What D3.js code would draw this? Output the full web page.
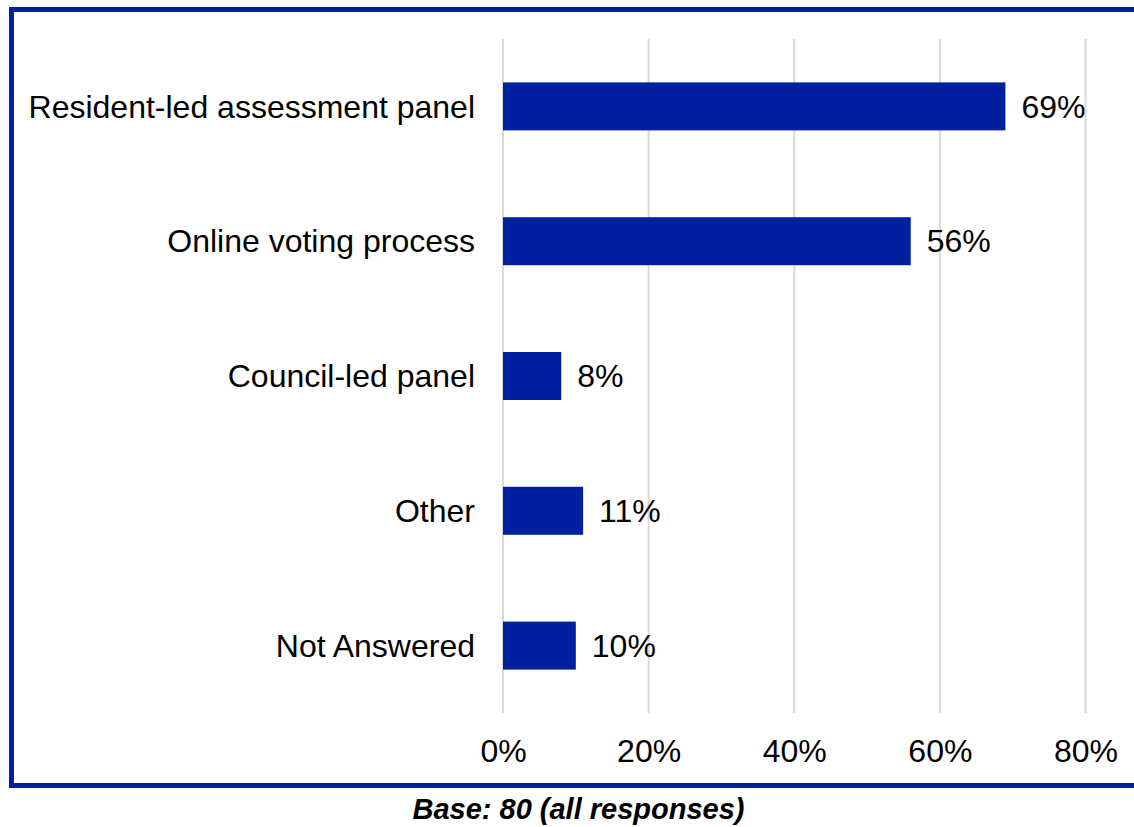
<!DOCTYPE html>
<html>
<head>
<meta charset="utf-8">
<script src="https://cdn.jsdelivr.net/npm/d3@7"></script>
<style>
  html, body { margin: 0; padding: 0; background: #fff; }
  svg { display: block; font-family: Arial, "Liberation Sans", sans-serif; }
</style>
</head>
<body>
<svg id="chart" width="1134" height="827"></svg>
<script>
// Preferred assessment method, share of all responses
const categories = [
  "Resident-led assessment panel",
  "Online voting process",
  "Council-led panel",
  "Other",
  "Not Answered"
];
const values = [0.69, 0.56, 0.08, 0.11, 0.10];
const tickValues = [0, 0.2, 0.4, 0.6, 0.8];
const baseNote = "Base: 80 (all responses)";

const W = 1134, H = 827;
const navy = "#0020A0";
const fontSize = "32px";
const margin = { top: 39, right: 48.5, bottom: 114, left: 503 };

const svg = d3.select("#chart");

// frame around the chart area
svg.append("rect")
  .attr("x", 11.5).attr("y", 9.5)
  .attr("width", 1140).attr("height", 776)
  .attr("fill", "none")
  .attr("stroke", navy)
  .attr("stroke-width", 5);

const x = d3.scaleLinear()
  .domain([0, 0.8])
  .range([margin.left, W - margin.right]);

const y = d3.scaleBand()
  .domain(categories)
  .range([margin.top, H - margin.bottom])
  .paddingInner(0.644)
  .paddingOuter(0.322);

// vertical gridlines
svg.append("g")
  .selectAll("line")
  .data(tickValues)
  .join("line")
  .attr("x1", d => x(d)).attr("x2", d => x(d))
  .attr("y1", margin.top).attr("y2", H - margin.bottom)
  .attr("stroke", "#d9d9d9")
  .attr("stroke-width", 2);

// x axis tick labels
const xAxis = d3.axisBottom(x)
  .tickValues(tickValues)
  .tickFormat(d3.format(".0%"))
  .tickSize(0)
  .tickPadding(0);

const gx = svg.append("g")
  .attr("transform", `translate(0,${H - margin.bottom})`)
  .call(xAxis);
gx.select(".domain").remove();
gx.selectAll("text")
  .attr("y", 49)
  .attr("dy", 0)
  .attr("fill", "#000")
  .style("font-size", fontSize)
  .style("font-family", "Arial, 'Liberation Sans', sans-serif");

// category labels
const yAxis = d3.axisLeft(y).tickSize(0).tickPadding(28);
const gy = svg.append("g")
  .attr("transform", `translate(${margin.left},0)`)
  .call(yAxis);
gy.select(".domain").remove();
gy.selectAll("text")
  .attr("dy", "0.35em")
  .attr("fill", "#000")
  .style("font-size", fontSize)
  .style("font-family", "Arial, 'Liberation Sans', sans-serif");

const rows = categories.map((c, i) => ({ c, v: values[i] }));

// bars
svg.append("g")
  .selectAll("rect")
  .data(rows)
  .join("rect")
  .attr("x", x(0))
  .attr("y", d => y(d.c))
  .attr("width", d => x(d.v) - x(0))
  .attr("height", y.bandwidth())
  .attr("fill", navy);

// value labels
svg.append("g")
  .selectAll("text")
  .data(rows)
  .join("text")
  .attr("x", d => x(d.v) + 16)
  .attr("y", d => y(d.c) + y.bandwidth() / 2)
  .attr("dy", "0.35em")
  .attr("fill", "#000")
  .style("font-size", fontSize)
  .text(d => d3.format(".0%")(d.v));

// base note
svg.append("text")
  .attr("x", 578.5)
  .attr("y", 819)
  .attr("text-anchor", "middle")
  .attr("fill", "#000")
  .style("font-size", "29px")
  .style("font-weight", "bold")
  .style("font-style", "italic")
  .text(baseNote);
</script>
</body>
</html>
